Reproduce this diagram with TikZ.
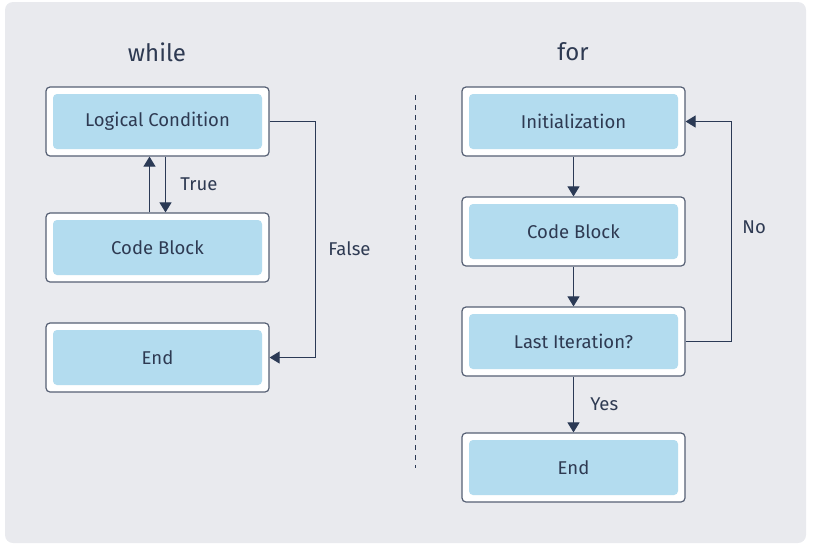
\documentclass[tikz,border=0pt]{standalone}
\usepackage{fontspec}
\setmainfont{Fira Sans}
\usetikzlibrary{arrows.meta,positioning}
\definecolor{bgGray}{HTML}{E9EAEE}
\definecolor{boxEdge}{HTML}{566074}
\definecolor{boxFill}{HTML}{B3DCEF}
\definecolor{lineNavy}{HTML}{2B3A55}
\definecolor{textNavy}{HTML}{2E3A52}

\begin{document}
\begin{tikzpicture}[
    x=1pt, y=-1pt,
    node distance=39.8pt,
    box/.style={rectangle, draw=boxEdge, line width=1.2pt, fill=white, rounded corners=4pt, minimum width=223pt, minimum height=69pt, font=\fontsize{18.5}{22}\selectfont, text=textNavy,
        path picture={\fill[boxFill, rounded corners=4pt] ([shift={(7pt,7pt)}]path picture bounding box.south west) rectangle ([shift={(-7pt,-7pt)}]path picture bounding box.north east);}},
    arrow/.style={-{Triangle[length=10pt, width=12pt]}, lineNavy, line width=1.1pt},
    lbl/.style={font=\fontsize{18.5}{22}\selectfont, text=textNavy},
    heading/.style={font=\fontsize{24}{28}\selectfont, text=textNavy}
]
\useasboundingbox (0,0) rectangle (833,550);
\fill[bgGray, rounded corners=8pt] (5,2) rectangle (806,543);

% while loop
\node[heading] (whilehd) at (157,52) {while};
\node[box] (lcond) at (157.5,121.5) {Logical Condition};
\node[box, below=55.8pt of lcond] (wcode) {Code Block};
\node[box, below=of wcode] (wend) {End};

% for loop
\node[heading] (forhd) at (573,52) {for};
\node[box] (init) at (573.5,121.5) {Initialization};
\node[box, below=of init] (fcode) {Code Block};
\node[box, below=of fcode] (last) {Last Iteration?};
\node[box, below=55.8pt of last] (fend) {End};

% Divider
\coordinate (divtop) at (415,95);
\coordinate (divbot) at (415,468);
\draw[lineNavy, line width=1pt, dash pattern=on 5pt off 5pt] (divtop) -- (divbot);

% Arrows
\draw[arrow] ([xshift=-8pt]wcode.north) -- ([xshift=-8pt]lcond.south);
\draw[arrow] ([xshift=8pt]lcond.south) -- node[lbl, right=11pt] {True} ([xshift=8pt]wcode.north);
\draw[arrow] (lcond.east) -- ++(46,0) |- node[pos=0.27, lbl, right=9pt] {False} (wend.east);

\draw[arrow] (init) -- (fcode);
\draw[arrow] (fcode) -- (last);
\draw[arrow] (last) -- node[lbl, right=13pt] {Yes} (fend);
\draw[arrow] (last.east) -- ++(46,0) |- node[pos=0.26, lbl, right=7pt] {No} (init.east);

\end{tikzpicture}
\end{document}
